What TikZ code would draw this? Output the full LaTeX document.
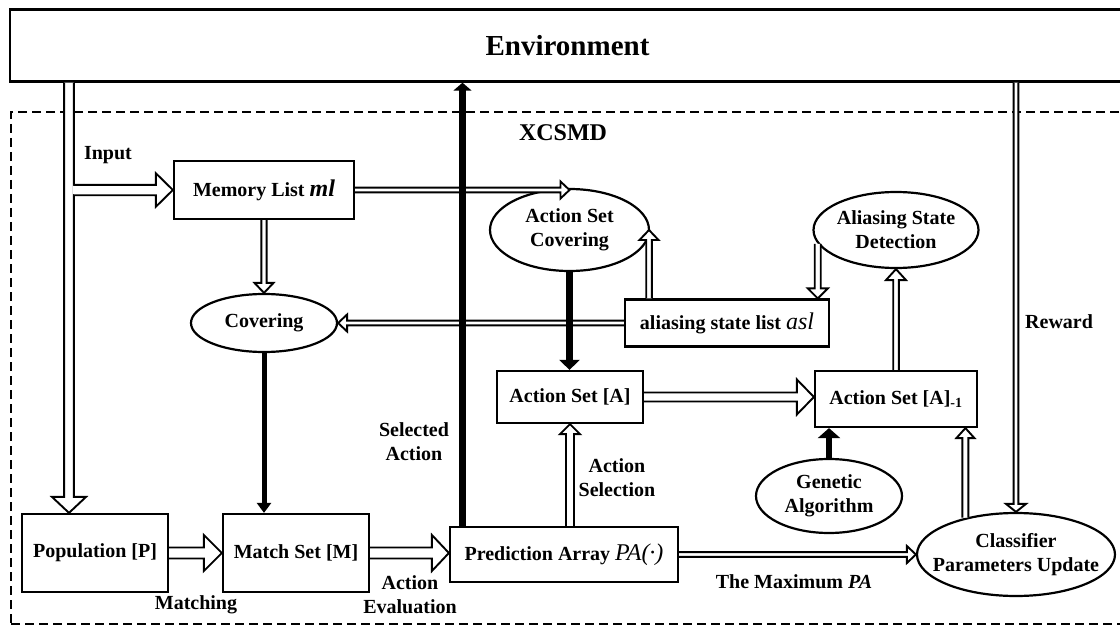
\documentclass[tikz,border=0pt]{standalone}
\usepackage{fontspec}
\setmainfont{Liberation Serif}
\usetikzlibrary{calc,arrows.meta,shapes.geometric}
\newcommand\lbl{\bfseries\fontsize{20}{24}\selectfont}
\newcommand\hol[5]{%
  \coordinate (hA) at (#1);
  \coordinate (hB) at (#2);
  \coordinate (hb) at ($(hB)!#5!(hA)$);
  \draw[holl] ($(hA)!#3!90:(hB)$) -- ($(hb)!#3!90:(hB)$) -- ($(hb)!#4!90:(hB)$) -- (hB)
    -- ($(hb)!#4!-90:(hB)$) -- ($(hb)!#3!-90:(hB)$) -- ($(hA)!#3!-90:(hB)$);
}
\tikzset{
  box/.style={draw, line width=2.2pt, rectangle, inner sep=0pt, font=\lbl},
  ell/.style={draw, line width=2.2pt, ellipse, inner sep=0pt},
  holl/.style={draw, line width=1.9pt, fill=white, line join=miter},
  lab/.style={font=\lbl, align=center, inner sep=0pt},
  blk/.style={draw, line cap=butt},
  frame/.style={draw, line width=2.3pt, dash pattern=on 9pt off 5pt, inner sep=0pt},
}
\begin{document}
\begin{tikzpicture}[x=1pt,y=-1pt]
\useasboundingbox (0,0) rectangle (1120,626);

% frames
\node[frame, minimum width=1124, minimum height=512] (sys) at (573,368) {};
\node[draw, line width=2.4pt, inner sep=0pt, minimum width=1115, minimum height=72,
      font=\bfseries\fontsize{29}{30}\selectfont] (env) at (567.5,45.5) {Environment};

% nodes
\node[box, minimum width=180, minimum height=58] (mem) at (264,190)
  {Memory List {\fontsize{24}{24}\selectfont\itshape ml}};
\node[ell, minimum width=146, minimum height=58, label={[lab]center:Covering}] (cov) at (264,323) {};
\node[ell, minimum width=159, minimum height=82, label={[lab]center:Action Set\\Covering}] (asc) at (569.5,230) {};
\node[ell, minimum width=165, minimum height=76, label={[lab]center:Aliasing State\\Detection}] (asd) at (896,230) {};
\node[box, minimum width=204, minimum height=47] (asl) at (727,323)
  {aliasing state list {\fontsize{24}{24}\selectfont\mdseries\itshape asl}};
\node[box, minimum width=146, minimum height=52] (A) at (570,397) {Action Set [A]};
\node[box, minimum width=162, minimum height=56] (A1) at (896,399) {Action Set [A]\textsubscript{-1}};
\node[ell, minimum width=146, minimum height=74, label={[lab]center:Genetic\\Algorithm}] (ga) at (829,496) {};
\node[box, minimum width=146, minimum height=78] (pop) at (95,553) {Population [P]};
\node[box, minimum width=146, minimum height=78] (match) at (296,553) {Match Set [M]};
\node[box, minimum width=228, minimum height=55] (pred) at (564,554.5)
  {Prediction Array {\fontsize{24}{24}\selectfont\mdseries\itshape PA(·)}};
\node[ell, minimum width=198, minimum height=83, label={[lab]center:Classifier\\Parameters Update}] (cpu) at (1016,554.5) {};

% labels
\node[lab] (linput) at (108,155) {Input};
\node[lab, font=\bfseries\fontsize{24}{24}\selectfont] (lxcs) at (563,133) {XCSMD};
\node[lab, anchor=west] (lrew) at (1025,322) {Reward};
\node[lab] (lsel) at (414,441.5) {Selected\\Action};
\node[lab] (lasel) at (617,478) {Action\\Selection};
\node[lab] (lmatch) at (196,605) {Matching};
\node[lab] (leval) at (410,595) {Action\\Evaluation};
\node[lab] (lmax) at (794,582) {The Maximum \textit{PA}};

% helper x positions
\coordinate (xin) at (69,0);
\coordinate (xinr) at (73.9,0);
\coordinate (xsel) at (462.5,0);
\coordinate (xasl) at (649,0);

% hollow arrows
\hol{env.south -| xin}{pop.north -| xin}{4.9pt}{17pt}{16pt}
\hol{xinr |- mem.west}{mem.west}{5.2pt}{16.7pt}{17pt}
\fill[white] (72.9,186) rectangle (74.9,194);
\hol{mem.south}{cov.north}{2.6pt}{9.5pt}{10pt}
\hol{mem.east}{asc.north |- mem.east}{2.4pt}{8.5pt}{9pt}
\hol{asl.west}{cov.east |- asl.west}{2.4pt}{8.5pt}{9pt}
\hol{asl.north -| xasl}{asc.east -| xasl}{2.8pt}{9.5pt}{10pt}
\hol{asd.190}{asd.190 |- asl.north}{3pt}{10pt}{10pt}
\hol{A1.north}{asd.south}{2.8pt}{10pt}{11pt}
\hol{A.east}{A1.west |- A.east}{4.5pt}{17.5pt}{17pt}
\hol{pred.north -| A.south}{A.south}{4pt}{10pt}{10pt}
\hol{pop.east}{match.west}{5.5pt}{18pt}{18pt}
\hol{match.east}{pred.west |- match.east}{5.5pt}{18pt}{17pt}
\hol{pred.east}{cpu.west}{2.4pt}{8.5pt}{9pt}
\hol{cpu.144}{cpu.144 |- A1.south}{3pt}{9pt}{10pt}
\hol{env.south -| cpu.north}{cpu.north}{2.4pt}{10pt}{8pt}

% thick black arrows
\draw[blk, line width=7pt, -{Triangle[width=18pt,length=8pt]}] (pred.north -| xsel) -- (env.south -| xsel);
\draw[blk, line width=5pt, -{Triangle[width=14pt,length=10pt]}] (cov.south) -- (cov.south |- match.north);
\draw[blk, line width=6.5pt, -{Triangle[width=20pt,length=10pt]}] (asc.south) -- (asc.south |- A.north);
\draw[blk, line width=6.5pt, -{Triangle[width=22pt,length=10pt]}] (ga.north) -- (ga.north |- A1.south);
\end{tikzpicture}
\end{document}
